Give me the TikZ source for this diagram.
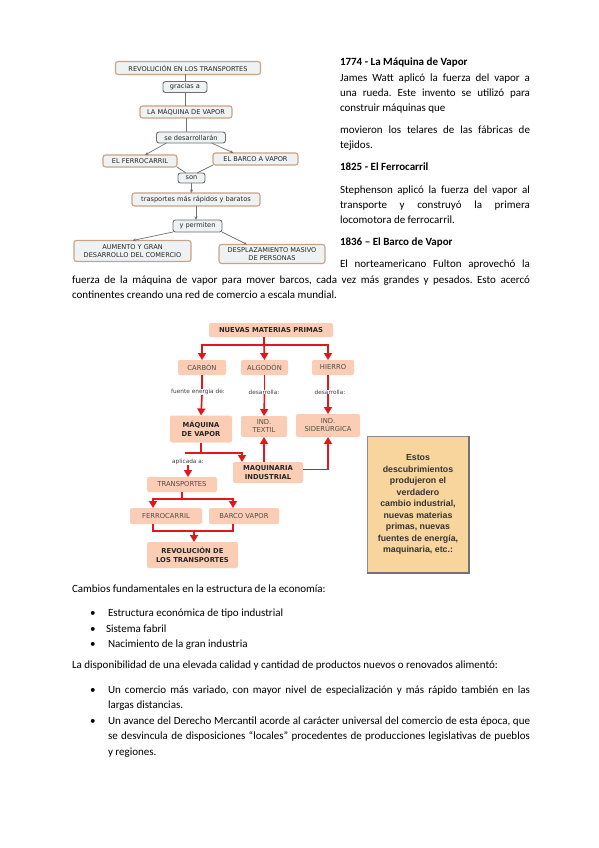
\documentclass[tikz,border=0pt]{standalone}
\usepackage{fontspec}
\setmainfont{Carlito}
\newfontfamily\dvfont{DejaVu Sans}
\newfontfamily\arfont{Liberation Sans}
\usetikzlibrary{arrows.meta,positioning}
\definecolor{boxfill}{HTML}{EEF2F3}
\definecolor{boxedge}{HTML}{C9A386}
\definecolor{linkedge}{HTML}{6E6E6E}
\definecolor{salmon}{HTML}{FBCDB5}
\definecolor{arrowred}{HTML}{E3161C}
\definecolor{notefill}{HTML}{F9D59E}
\newcommand{\jline}[2]{\makebox[#1][s]{#2}}
\frenchspacing

\begin{document}
\begin{tikzpicture}[
    x=1pt, y=-1pt,
    every node/.style={inner sep=0pt, outer sep=0pt},
    txt/.style={anchor=base west, font=\fontsize{11}{12}\selectfont},
    bold/.style={txt, font=\fontsize{11}{12}\selectfont\bfseries},
    concept/.style={draw=boxedge, line width=1.1pt, fill=boxfill, rounded corners=2.5pt, align=center,
      font=\dvfont\fontsize{6.6}{7.6}\selectfont, text=black!85},
    linker/.style={concept, draw=linkedge, line width=0.9pt},
    tline/.style={draw=black!55, line width=0.7pt},
    tarrow/.style={tline, -{Stealth[length=3.5pt,width=3pt]}},
    pbox/.style={fill=salmon, rounded corners=2pt, align=center, font=\dvfont\fontsize{6.8}{8}\selectfont, text=black!70},
    pbold/.style={pbox, font=\dvfont\bfseries\fontsize{6.8}{8.5}\selectfont, text=black!85},
    plabel/.style={font=\dvfont\fontsize{5.8}{6.5}\selectfont, text=black!75},
    rline/.style={draw=arrowred, line width=1.6pt},
    rarrow/.style={rline, -{Triangle[length=7pt,width=8pt]}},
    note/.style={fill=notefill, draw=black!45, line width=0.5pt, minimum width=102pt, minimum height=137pt,
      align=center, font=\arfont\bfseries\fontsize{8.8}{11.5}\selectfont, text=black!80}
  ]
  \fill[white] (0,0) rectangle (599,848);
  \useasboundingbox (0,0) rectangle (599,848);

  % first map
  \node[concept, minimum width=145pt, minimum height=13pt] (rev) at (188,68) {REVOLUCIÓN EN LOS TRANSPORTES};
  \node[linker, minimum width=44pt, minimum height=11pt] (gracias) at (185,87) {gracias a};
  \node[concept, minimum width=92pt, minimum height=12pt] (maqv) at (186,112) {LA MÁQUINA DE VAPOR};
  \node[linker, minimum width=69pt, minimum height=11pt] (sedes) at (191,137.5) {se desarrollarán};
  \node[concept, minimum width=74pt, minimum height=12pt] (ferroT) at (140,161) {EL FERROCARRIL};
  \node[concept, minimum width=85pt, minimum height=12pt] (barcoT) at (255.5,159) {EL BARCO A VAPOR};
  \node[linker, minimum width=27pt, minimum height=10pt] (son) at (191.5,178) {son};
  \node[concept, minimum width=128pt, minimum height=13pt] (trasp) at (196,199.5) {trasportes más rápidos y baratos};
  \node[linker, minimum width=49pt, minimum height=12pt] (ypermiten) at (197.5,226) {y permiten};
  \node[concept, minimum width=117pt, minimum height=21pt] (aumento) at (132.5,251) {AUMENTO Y GRAN\\DESARROLLO DEL COMERCIO};
  \node[concept, minimum width=106pt, minimum height=19pt] (despl) at (272,254) {DESPLAZAMIENTO MASIVO\\DE PERSONAS};

  \draw[tline] (gracias.north |- rev.south) -- (gracias.north);
  \draw[tline] (gracias.south) -- (gracias.south |- maqv.north);
  \draw[tline] (maqv.south) -- (maqv.south |- sedes.north);
  \draw[tarrow] ([xshift=10pt]sedes.south west) -- ([xshift=5pt]ferroT.north);
  \draw[tarrow] ([xshift=-14pt]sedes.south east) -- ([xshift=-22pt]barcoT.north);
  \draw[tline] (ferroT.south east) -- ([xshift=8pt]son.north west);
  \draw[tline] (barcoT.south west) -- ([xshift=-8pt]son.north east);
  \draw[tarrow] (son.south) -- (son.south |- trasp.north);
  \draw[tarrow] (trasp.south) -- (trasp.south |- ypermiten.north);
  \draw[tarrow] (ypermiten.south west) -- (aumento.north);
  \draw[tarrow] (ypermiten.south east) -- ([xshift=-25pt]despl.north);

  % text beside the first map
  \node[bold] (h1) at (340,66) {1774 - La Máquina de Vapor};
  \node[txt] (p1) at (340,82) {\jline{190pt}{James Watt aplicó la fuerza del vapor a}};
  \node[txt] (p2) at (340,97) {\jline{190pt}{una rueda. Este invento se utilizó para}};
  \node[txt] (p3) at (340,112) {construir máquinas que};
  \node[txt] (p4) at (340,134) {\jline{190pt}{movieron los telares de las fábricas de}};
  \node[txt] (p5) at (340,149) {tejidos.};
  \node[bold] (h2) at (340,170) {1825 - El Ferrocarril};
  \node[txt] (p6) at (340,193) {\jline{190pt}{Stephenson aplicó la fuerza del vapor al}};
  \node[txt] (p7) at (340,208) {\jline{190pt}{transporte y construyó la primera}};
  \node[txt] (p8) at (340,223) {locomotora de ferrocarril.};
  \node[bold] (h3) at (340,245) {1836 – El Barco de Vapor};
  \node[txt] (p9) at (340,267) {\jline{190pt}{El norteamericano Fulton aprovechó la}};
  \node[txt] (p10) at (72,283) {\jline{458pt}{fuerza de la máquina de vapor para mover barcos, cada vez más grandes y pesados. Esto acercó}};
  \node[txt] (p11) at (72,298) {continentes creando una red de comercio a escala mundial.};

  % second map
  \node[pbold, minimum width=124pt, minimum height=14pt] (nmp) at (271,330) {NUEVAS MATERIAS PRIMAS};
  \node[pbox, minimum width=48pt, minimum height=15pt] (carbon) at (202,367.5) {CARBÓN};
  \node[pbox, minimum width=47pt, minimum height=15pt] (algodon) at (264.5,367.5) {ALGODÓN};
  \node[pbox, minimum width=42pt, minimum height=15pt] (hierro) at (333,367.5) {HIERRO};
  \node[plabel] (lab1) at (198,392) {fuente energía de:};
  \node[plabel] (lab2) at (264,392) {desarrolla:};
  \node[plabel] (lab3) at (330,392) {desarrolla:};
  \node[pbold, minimum width=62pt, minimum height=27pt] (maquina) at (201,429) {MÁQUINA\\DE VAPOR};
  \node[pbox, minimum width=46pt, minimum height=21pt] (textil) at (264,426.5) {IND.\\TEXTIL};
  \node[pbox, minimum width=64pt, minimum height=23pt] (sider) at (328,425.5) {IND.\\SIDERÚRGICA};
  \node[plabel] (aplic) at (188,462) {aplicada a:};
  \node[pbold, minimum width=70pt, minimum height=21pt] (maqind) at (268,472.5) {MAQUINARIA\\INDUSTRIAL};
  \node[pbox, minimum width=70pt, minimum height=15pt] (transp) at (182,484.5) {TRANSPORTES};
  \node[pbox, minimum width=72pt, minimum height=16pt] (ferro) at (166,516) {FERROCARRIL};
  \node[pbox, minimum width=70pt, minimum height=16pt] (barco) at (244,516) {BARCO VAPOR};
  \node[pbold, minimum width=91pt, minimum height=26pt] (revol) at (192.5,555) {REVOLUCIÓN DE\\LOS TRANSPORTES};

  \coordinate (bar) at (264,345);
  \draw[rline] (bar |- nmp.south) -- (bar);
  \draw[rarrow] (bar) -| (carbon.north);
  \draw[rarrow] (bar) -- (algodon.north);
  \draw[rarrow] (bar) -| (sider.center |- hierro.north);
  \draw[rline] (carbon.south) -- (carbon.south |- lab1.north);
  \draw[rarrow] (carbon.south |- lab1.south) -- (maquina.north);
  \draw[rline] (algodon.south) -- (algodon.south |- lab2.north);
  \draw[rarrow] (algodon.south |- lab2.south) -- (textil.north);
  \draw[rline] (sider.center |- hierro.south) -- (sider.center |- lab3.north);
  \draw[rarrow] (sider.center |- lab3.south) -- (sider.north);
  \coordinate (jm) at (201,453);
  \coordinate (jl) at (185,453);
  \draw[rline] (maquina.south) -- (jm);
  \draw[rarrow] (jl) -| ([xshift=9pt]maqind.north west);
  \draw[rarrow] (aplic.south) -- (aplic.south |- transp.north);
  \draw[rarrow] (textil.south |- maqind.north) -- (textil.south);
  \draw[rarrow] ([yshift=3pt]maqind.east) -| (sider.south);
  \coordinate (jt) at (182,499);
  \draw[rline] (transp.south) -- (jt);
  \draw[rarrow] (jt) -| ([xshift=-13pt]ferro.north);
  \draw[rarrow] (jt) -| ([xshift=-11pt]barco.north);
  \coordinate (jr) at (194,531);
  \draw[rline] ([xshift=-13pt]ferro.south) -- ++(0,7) -| ([xshift=-11pt]barco.south);
  \draw[rarrow] (jr) -- (jr |- revol.north);

  \node[note] (note) at (418,504.5) {Estos\\descubrimientos\\produjeron el\\verdadero\\cambio industrial,\\nuevas materias\\primas, nuevas\\fuentes de energía,\\maquinaria, etc.:};
  \draw[black!55, line width=1.2pt] (note.north east) -- (note.south east) -- (note.south west);

  % text below
  \node[txt] (c1) at (72,592) {Cambios fundamentales en la estructura de la economía:};
  \node[txt] (d1) at (90,616) {\textbullet};
  \node[txt] (e1) at (108,616) {Estructura económica de tipo industrial};
  \node[txt] (d2) at (90,632) {\textbullet};
  \node[txt] (e2) at (106,632) {Sistema fabril};
  \node[txt] (d3) at (90,647) {\textbullet};
  \node[txt] (e3) at (108,647) {Nacimiento de la gran industria};
  \node[txt] (c2) at (72,668) {La disponibilidad de una elevada calidad y cantidad de productos nuevos o renovados alimentó:};
  \node[txt] (d4) at (90,693) {\textbullet};
  \node[txt] (e4) at (108,693) {\jline{422pt}{Un comercio más variado, con mayor nivel de especialización y más rápido también en las}};
  \node[txt] (e5) at (108,708) {largas distancias.};
  \node[txt] (d5) at (90,724) {\textbullet};
  \node[txt] (e6) at (108,724) {\jline{422pt}{Un avance del Derecho Mercantil acorde al carácter universal del comercio de esta época, que}};
  \node[txt] (e7) at (108,739.5) {\jline{422pt}{se desvincula de disposiciones “locales” procedentes de producciones legislativas de pueblos}};
  \node[txt] (e8) at (108,755) {y regiones.};
\end{tikzpicture}
\end{document}
